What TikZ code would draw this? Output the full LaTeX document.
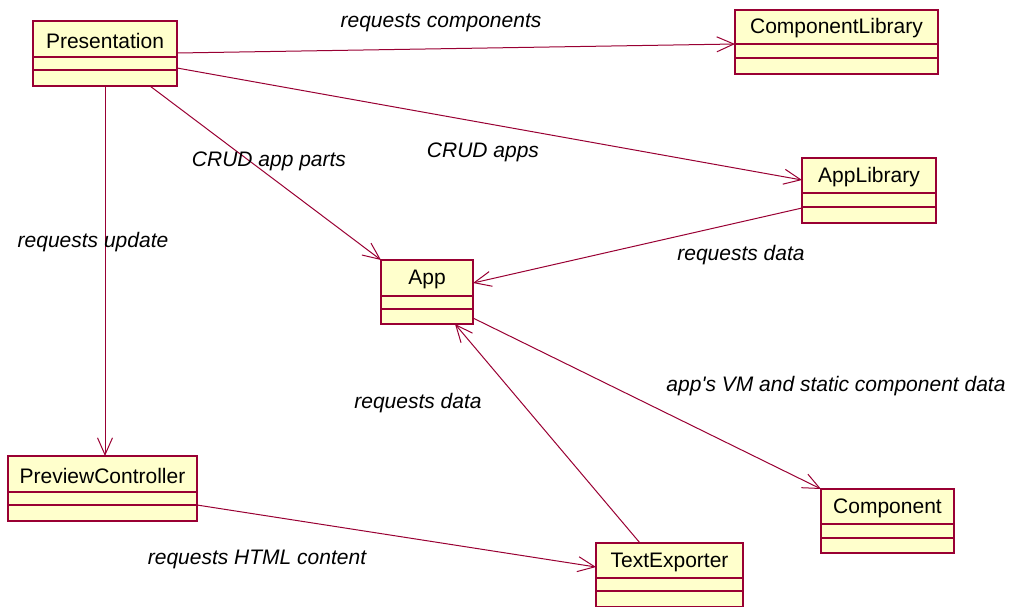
\documentclass[tikz,border=0pt]{standalone}
\usepackage{fontspec}
\setmainfont{Liberation Sans}
\usetikzlibrary{arrows.meta,calc}
\definecolor{umlline}{RGB}{153,0,51}
\definecolor{umlfill}{RGB}{255,255,204}
\tikzset{
  classbox/.style={draw=umlline, fill=umlfill, line width=0.75pt, inner sep=0pt, outer sep=0pt},
  divider/.style={draw=umlline, line width=0.6pt},
  classname/.style={font=\fontsize{10.5}{12}\selectfont, inner sep=0pt},
  assoc/.style={draw=umlline, line width=0.5pt, -{Straight Barb[length=8.5pt,width=7.5pt]}},
  assoclabel/.style={font=\fontsize{10.5}{12}\selectfont\itshape, inner sep=0pt},
}
% class box: name, x1, y1, x2, y2, first divider y, second divider y, title
\newcommand{\umlclass}[8]{%
  \node[classbox, anchor=north west,
        minimum width={(#4-#2)*0.5pt}, minimum height={(#5-#3)*0.5pt}] (#1) at (#2,#3) {};
  \draw[divider] (#1.west |- 0,#6) -- (#1.east |- 0,#6)
                 (#1.west |- 0,#7) -- (#1.east |- 0,#7);
  \node[classname] (#1-t) at ({(#2+#4)/2},{(#3+#6)/2+1.5}) {#8};
}
\begin{document}
\begin{tikzpicture}[x=0.5pt, y=-0.5pt]
\useasboundingbox (0,0) rectangle (1011,606);

\umlclass{pres}{33}{21}{177}{86}{57}{70}{Presentation}
\umlclass{complib}{735}{10}{938}{74}{44}{58}{ComponentLibrary}
\umlclass{applib}{802}{158}{936}{223}{193}{207}{AppLibrary}
\umlclass{app}{381}{260}{473}{324}{296}{309}{App}
\umlclass{prev}{8}{456}{197}{521}{492}{505}{PreviewController}
\umlclass{comp}{821}{489}{954}{553}{524}{538}{Component}
\umlclass{tex}{596}{543}{743}{607}{578}{591}{TextExporter}

% associations
\draw[assoc] ($(pres.north east)+(0,32)$) -- ($(complib.north west)+(0,34)$);
\draw[assoc] ($(pres.north east)+(0,47)$) -- ($(applib.north west)+(0,22)$);
\draw[assoc] ($(pres.south west)+(117,0)$) -- (app.north west);
\draw[assoc] ($(pres.south west)+(72,0)$) -- ($(prev.north west)+(97,0)$);
\draw[assoc] ($(applib.north west)+(0,50)$) -- ($(app.north east)+(0,23)$);
\draw[assoc] ($(app.north east)+(0,58)$) -- (comp.north west);
\draw[assoc] ($(tex.north west)+(44,0)$) -- ($(app.south west)+(74,0)$);
\draw[assoc] ($(prev.north east)+(0,49)$) -- ($(tex.north west)+(0,24)$);

% association labels
\node[assoclabel] (l1) at (441,22.5) {requests components};
\node[assoclabel] (l2) at (483,152.5) {CRUD apps};
\node[assoclabel] (l3) at (269,161.5) {CRUD app parts};
\node[assoclabel] (l4) at (93,242.5) {requests update};
\node[assoclabel] (l5) at (741,255.5) {requests data};
\node[assoclabel] (l6) at (836,386.5) {app\textquotesingle s VM and static component data};
\node[assoclabel] (l7) at (418,403.5) {requests data};
\node[assoclabel] (l8) at (257,559.5) {requests HTML content};
\end{tikzpicture}
\end{document}
